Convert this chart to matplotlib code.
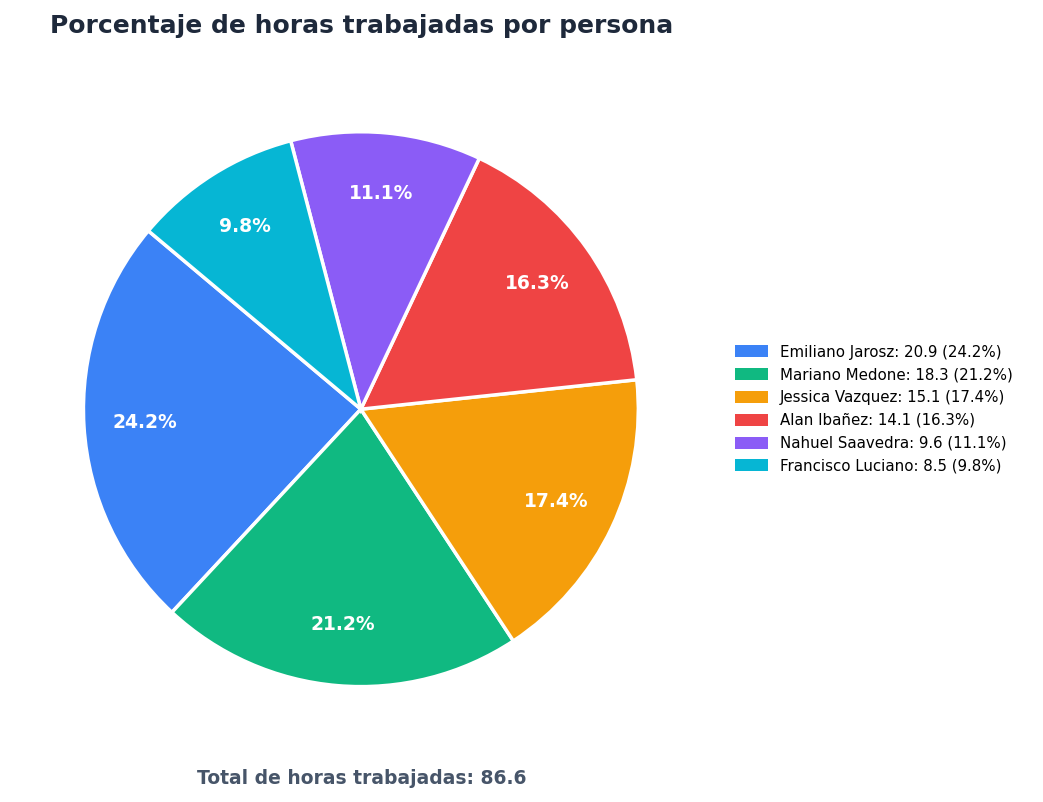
import matplotlib
matplotlib.use("Agg")
import matplotlib.pyplot as plt
from matplotlib.patches import Patch

personas = ["Emiliano Jarosz", "Mariano Medone", "Jessica Vazquez",
            "Alan Ibañez", "Nahuel Saavedra", "Francisco Luciano"]
horas = [20.94, 18.34, 15.09, 14.1, 9.6, 8.5]
colores = ["#3b82f6", "#10b981", "#f59e0b", "#ef4444", "#8b5cf6", "#06b6d4"]

total = sum(horas)
etiquetas = [f"{p}: {h:.1f} ({h / total * 100:.1f}%)" for p, h in zip(personas, horas)]

fig = plt.figure(figsize=(10.43, 8.02), dpi=100)
ax = fig.add_axes([0.0135, 0.0573, 0.665, 0.865])

wedges, texts, autotexts = ax.pie(
    horas, colors=colores, startangle=140, counterclock=True,
    autopct="%1.1f%%", pctdistance=0.78,
    wedgeprops=dict(edgecolor="white", linewidth=2.5),
    textprops=dict(color="white", fontsize=13.5, fontweight="bold"),
)
ax.set_aspect("equal")

fig.text(362 / 1043, 1 - 26 / 802, "Porcentaje de horas trabajadas por persona",
         ha="center", va="center", fontsize=18, fontweight="bold", color="#1e293b")
fig.text(361.5 / 1043, 1 - 778 / 802, f"Total de horas trabajadas: {total:.1f}",
         ha="center", va="center", fontsize=13.5, fontweight="bold", color="#475569")

# handles sin borde blanco
handles = [Patch(facecolor=c, edgecolor="none") for c in colores]
fig.legend(handles, etiquetas, loc="center left", bbox_to_anchor=(0.6915, 0.490),
           frameon=False, fontsize=10.8, handlelength=2.2, handleheight=0.85,
           handletextpad=0.8, labelspacing=0.52)

plt.savefig("out.png", dpi=100)
